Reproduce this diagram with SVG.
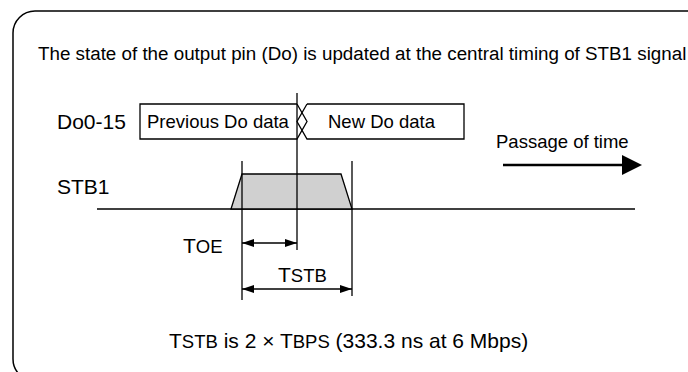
<svg xmlns="http://www.w3.org/2000/svg" width="688" height="372" viewBox="0 0 688 372">
<style>
text{font-family:"Liberation Sans",Arial,sans-serif;fill:#000}
.lbl{font-size:21px}
.sm{font-size:18.5px}
.ln{stroke:#000;stroke-width:1.3;fill:none}
</style>
<defs>
<marker id="ah" viewBox="0 0 12 8" refX="12" refY="4" markerWidth="12" markerHeight="8" markerUnits="userSpaceOnUse" orient="auto-start-reverse">
<path d="M0,0 L12,4 L0,8 Z" fill="#000"/>
</marker>
</defs>
<rect width="688" height="372" fill="#fff"/>
<rect x="13" y="11" width="695" height="370" rx="22" ry="22" fill="none" stroke="#000" stroke-width="1.5"/>
<text x="38" y="60" style="font-size:18.8px">The state of the output pin (Do) is updated at the central timing of STB1 signal</text>
<g id="do-label"><text class="lbl" x="57" y="129">Do0-15</text></g>
<g id="stb1-label"><text class="lbl" x="57" y="194">STB1</text></g>
<g id="prev-data">
<path class="ln" d="M297,104 L140,104 L140,139 L297,139 L307,121.5 L297,104"/>
<text class="sm" x="147" y="128">Previous Do data</text>
</g>
<g id="new-data">
<path class="ln" d="M307,104 L464,104 L464,139 L307,139 L297,121.5 L307,104"/>
<text class="sm" x="328" y="128">New Do data</text>
</g>
<g id="stb1-signal">
<line class="ln" x1="97" y1="209" x2="635" y2="209"/>
<path d="M231,209 L242,174 L341,174 L352,209 Z" fill="#d0d0d0" stroke="#000" stroke-width="1.3"/>
</g>
<g id="passage">
<text class="sm" x="496" y="148">Passage of time</text>
<line x1="503" y1="165" x2="624" y2="165" stroke="#000" stroke-width="2.5"/>
<path d="M622,155 L642,165 L622,175 Z" fill="#000"/>
</g>
<g id="connectors">
<line class="ln" x1="297" y1="93" x2="297" y2="250"/>
<line class="ln" x1="242" y1="161" x2="242" y2="300"/>
<line class="ln" x1="352" y1="161" x2="352" y2="296"/>
<line class="ln" x1="242" y1="243" x2="297" y2="243" marker-start="url(#ah)" marker-end="url(#ah)"/>
<line class="ln" x1="242" y1="289" x2="352" y2="289" marker-start="url(#ah)" marker-end="url(#ah)"/>
</g>
<g id="toe-label"><text x="183" y="253"><tspan class="lbl">T</tspan><tspan class="sm">OE</tspan></text></g>
<g id="tstb-label"><text x="278" y="282"><tspan class="lbl">T</tspan><tspan class="sm">STB</tspan></text></g>
<g id="note"><text x="169" y="348"><tspan class="lbl">T</tspan><tspan class="sm">STB</tspan><tspan class="lbl"> is 2 × T</tspan><tspan class="sm">BPS</tspan><tspan class="lbl"> (333.3 ns at 6 Mbps)</tspan></text></g>
</svg>
